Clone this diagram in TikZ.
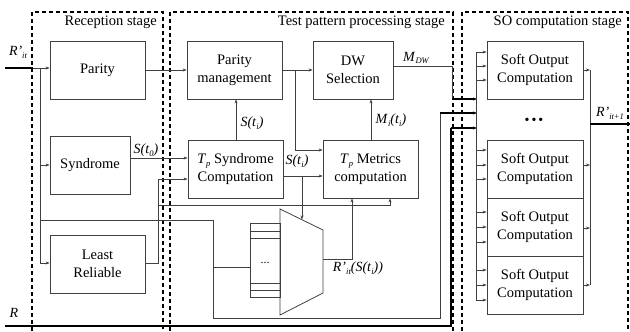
\documentclass[tikz,border=0pt]{standalone}
\usepackage{fontspec}
\setmainfont{Liberation Serif}
\usetikzlibrary{arrows.meta,calc}
\newcommand\lsub[1]{\raisebox{-0.45ex}{\fontsize{8.5}{9}\selectfont\itshape #1}}
\begin{document}
\begin{tikzpicture}[x=1pt,y=-1pt,
  box/.style={draw=black!75, line width=0.8pt, minimum width=95pt, minimum height=58pt, align=center, inner sep=0pt, font=\fontsize{14.5}{18}\selectfont},
  conn/.style={draw=black!75, line width=0.8pt},
  arr/.style={conn, -{Stealth[length=4pt,width=3pt]}},
  bus/.style={draw=black, line width=1.3pt},
  stage/.style={draw=black, line width=1.6pt, dash pattern=on 4pt off 3pt},
  lbl/.style={font=\fontsize{14}{16}\selectfont, inner sep=0pt},
  ttl/.style={font=\fontsize{14.5}{16}\selectfont, inner sep=0pt, anchor=east}]
\useasboundingbox (0,0) rectangle (630,332);

% stages
\draw[stage] (32,345)--(32,12)--(163,12)--(163,345);
\draw[stage] (170,345)--(170,12)--(453,12)--(453,345);
\draw[stage] (462,345)--(462,12)--(628,12)--(628,345);
\node[ttl] (t1) at (157,22) {Reception stage};
\node[ttl] (t2) at (445,22) {Test pattern processing stage};
\node[ttl] (t3) at (622,22) {SO computation stage};

% blocks
\node[box] (par) at (97.5,70) {Parity};
\node[box, minimum width=80pt] (syn) at (90,165) {Syndrome};
\node[box] (lr) at (97.5,264) {Least\\Reliable};
\node[box] (pm) at (234.5,70) {Parity\\management};
\node[box] (tps) at (235.5,169) {\textit{T}\lsub{p} Syndrome\\Computation};
\node[box, minimum width=80pt] (dw) at (353,70) {DW\\Selection};
\node[box] (tpm) at (370.5,169) {\textit{T}\lsub{p} Metrics\\computation};
\node[box, minimum width=96pt] (so1) at (535,70) {Soft Output\\Computation};
\node[box, minimum width=96pt] (so2) at (535,169) {Soft Output\\Computation};
\node[box, minimum width=96pt] (so3) at (535,227) {Soft Output\\Computation};
\node[box, minimum width=96pt] (so4) at (535,285) {Soft Output\\Computation};
\node[font=\fontsize{14}{16}\selectfont, inner sep=0pt] (dots) at (534,121) {\textbullet\hspace{2pt}\textbullet\hspace{2pt}\textbullet};

% register bank and mux
\node[conn, draw, minimum width=30pt, minimum height=74pt, inner sep=0pt] (reg) at (265,260) {};
\node[inner sep=0pt, font=\fontsize{12}{12}\selectfont] (regdots) at (265,263) {...};
\foreach \yy in {231,238,283,290} \draw[conn] (250,\yy)--(280,\yy);
\draw[conn] (280,209)--(323,230)--(323,293)--(280,315)--cycle;
\coordinate (muxtop) at (302,219.5);
\coordinate (muxout) at (323,259);

% input R'_it
\coordinate (rin) at (5,68);
\coordinate (ra) at (33,68);
\draw[bus] (rin)--(ra);
\draw[arr] (ra)--(par.west |- ra);
\draw[conn] (40,68)--(40,263);
\draw[arr] (40,263)--(lr.west |- 0,263);
\draw[arr] (40,165)--(syn.west |- 0,165);
\draw[conn] (40,220)--(213,220)--(213,318)--(440,318)--(440,113);
\draw[conn] (213,267)--(reg.west |- 0,267);

% parity
\draw[arr] (par.east)--(pm.west);
\draw[arr] (pm.east)--(dw.west);
\draw[arr] (295,70)--(295,150)--(tpm.west |- 0,150);

% syndrome
\draw[arr] (syn.east |- 0,158)--(tps.west |- 0,158);
\draw[conn] (lr.east |- 0,263)--(158,263)--(158,179);
\draw[arr] (158,179)--(tps.west |- 0,179);
\draw[arr] (158,205)--(390,205)--(tpm.south -| 390,0);
\draw[arr] (tps.north -| 236,0)--(pm.south -| 236,0);
\draw[arr] (tps.east |- 0,176)--(tpm.west |- 0,176);
\draw[arr] (302,176)--(muxtop);
\draw[arr] (muxout)--(352,259)--(tpm.south -| 352,0);
\draw[arr] (tpm.north -| 371,0)--(dw.south -| 371,0);

% to SO stage
\draw[conn] (dw.east |- 0,66)--(452,66)--(452,99);
\draw[bus, -{Stealth[length=4pt,width=3pt]}] (452,99)--(477,99);
\draw[bus, -{Stealth[length=4pt,width=3pt]}] (440,113)--(477,113);
\coordinate (rr) at (5,326);
\draw[bus] (rr)--(451,326)--(451,128);
\draw[bus, -{Stealth[length=4pt,width=3pt]}] (451,128)--(477,128);

\draw[conn] (476,52)--(476,300);
\foreach \yy in {52,66,80} \draw[arr] (476,\yy)--(so1.west |- 0,\yy);
\foreach \yy in {150,165,179} \draw[arr] (476,\yy)--(so2.west |- 0,\yy);
\foreach \yy in {212,227,242} \draw[arr] (476,\yy)--(so3.west |- 0,\yy);
\foreach \yy in {270,285,300} \draw[arr] (476,\yy)--(so4.west |- 0,\yy);

\draw[arr] (so1.east |- 0,70)--(590,70);
\draw[arr] (so2.east |- 0,165)--(590,165);
\draw[arr] (so3.east |- 0,228)--(590,228);
\draw[arr] (so4.east |- 0,285)--(590,285);
\draw[conn] (590,70)--(590,285);
\coordinate (rout) at (630,124);
\draw[bus] (590,124)--(rout);

% labels
\node[lbl] (l1) at (18,52) {\textit{R’}\lsub{it}};
\node[lbl] (l2) at (146,150) {\textit{S(t}\lsub{0}\textit{)}};
\node[lbl] (l3) at (252,123) {\textit{S(t}\lsub{i}\textit{)}};
\node[lbl] (l4) at (297,161) {\textit{S(t}\lsub{i}\textit{)}};
\node[lbl] (l5) at (416,58) {\textit{M}\lsub{DW}};
\node[lbl] (l6) at (391,120) {\textit{M}\lsub{i}\textit{(t}\lsub{i}\textit{)}};
\node[lbl] (l7) at (358,268) {\textit{R’}\lsub{it}\textit{(S(t}\lsub{i}\textit{))}};
\node[lbl] (l8) at (610,113) {\textit{R’}\lsub{it+1}};
\node[lbl] (l9) at (14,313) {\textit{R}};
\end{tikzpicture}
\end{document}
